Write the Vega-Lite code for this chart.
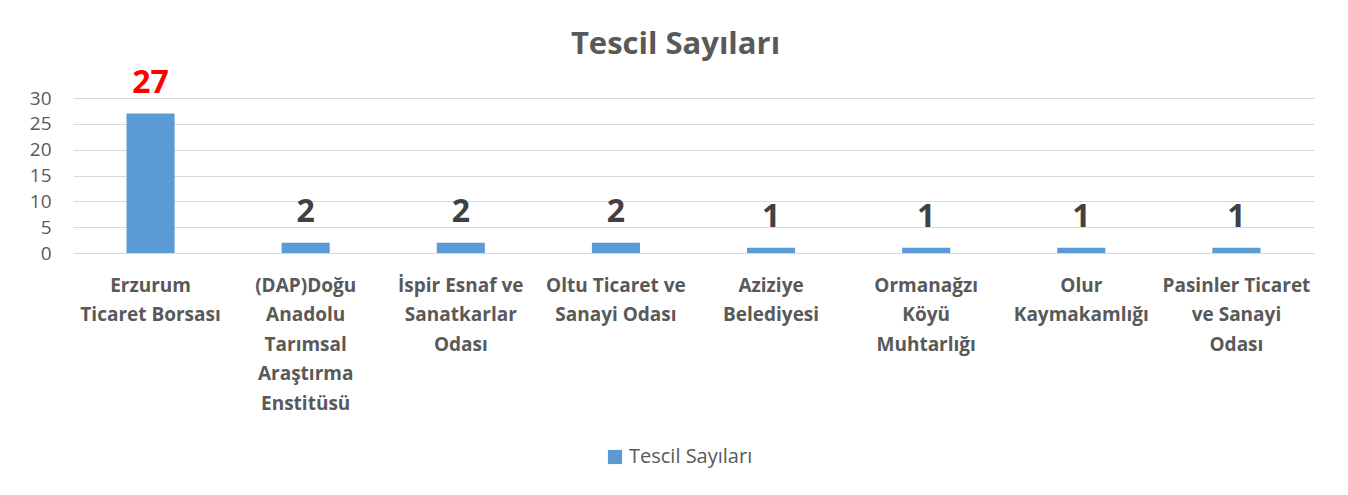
{
  "$schema": "https://vega.github.io/schema/vega-lite/v6.json",
  "autosize": "none",
  "width": 1241,
  "height": 155,
  "padding": {"left": 73, "top": 98, "right": 34, "bottom": 242},
  "background": "white",
  "title": {
    "text": "Tescil Sayıları",
    "font": "Open Sans",
    "fontSize": 31,
    "fontWeight": "bold",
    "color": "#595959",
    "anchor": "middle",
    "dx": -18,
    "offset": 6
  },
  "data": {
    "values": [
      {"k": "Erzurum\nTicaret Borsası", "v": 27, "s": "Tescil Sayıları"},
      {"k": "(DAP)Doğu\nAnadolu\nTarımsal\nAraştırma\nEnstitüsü", "v": 2, "s": "Tescil Sayıları"},
      {"k": "İspir Esnaf ve\nSanatkarlar\nOdası", "v": 2, "s": "Tescil Sayıları"},
      {"k": "Oltu Ticaret ve\nSanayi Odası", "v": 2, "s": "Tescil Sayıları"},
      {"k": "Aziziye\nBelediyesi", "v": 1, "s": "Tescil Sayıları"},
      {"k": "Ormanağzı\nKöyü\nMuhtarlığı", "v": 1, "s": "Tescil Sayıları"},
      {"k": "Olur\nKaymakamlığı", "v": 1, "s": "Tescil Sayıları"},
      {"k": "Pasinler Ticaret\nve Sanayi\nOdası", "v": 1, "s": "Tescil Sayıları"}
    ]
  },
  "encoding": {
    "x": {
      "field": "k",
      "type": "nominal",
      "sort": null,
      "scale": {"paddingInner": 0.69, "paddingOuter": 0.345},
      "axis": {
        "title": null,
        "labelAngle": 0,
        "labelExpr": "split(datum.label, '\\n')",
        "labelFont": "Open Sans",
        "labelFontSize": 19,
        "labelFontWeight": "bold",
        "labelColor": "#595959",
        "labelLineHeight": 29.5,
        "labelPadding": 23,
        "labelLimit": 0,
        "ticks": false,
        "domain": false
      }
    },
    "y": {
      "field": "v",
      "type": "quantitative",
      "scale": {"domain": [0, 30]},
      "axis": {
        "title": null,
        "values": [0, 5, 10, 15, 20, 25, 30],
        "labelFont": "Open Sans",
        "labelFontSize": 19,
        "labelColor": "#595959",
        "labelPadding": 22,
        "ticks": false,
        "domain": false,
        "gridColor": "#D9D9D9",
        "gridWidth": 1.2
      }
    }
  },
  "layer": [
    {
      "mark": {"type": "bar"},
      "encoding": {
        "color": {
          "field": "s",
          "type": "nominal",
          "scale": {"range": ["#5B9BD5"]},
          "legend": {
            "title": null,
            "orient": "none",
            "legendX": 532,
            "legendY": 349,
            "symbolType": "square",
            "symbolSize": 200,
            "symbolStrokeWidth": 0,
            "labelFont": "Open Sans",
            "labelFontSize": 20,
            "labelColor": "#595959",
            "labelOffset": 4
          }
        }
      }
    },
    {
      "mark": {
        "type": "text",
        "baseline": "alphabetic",
        "dy": -21,
        "font": "Open Sans",
        "fontSize": 32,
        "fontWeight": "bold"
      },
      "encoding": {
        "text": {"field": "v", "type": "quantitative"},
        "color": {
          "condition": {"test": "datum.v == 27", "value": "#FF0000"},
          "value": "#404040"
        }
      }
    }
  ],
  "config": {"view": {"stroke": null}}
}
